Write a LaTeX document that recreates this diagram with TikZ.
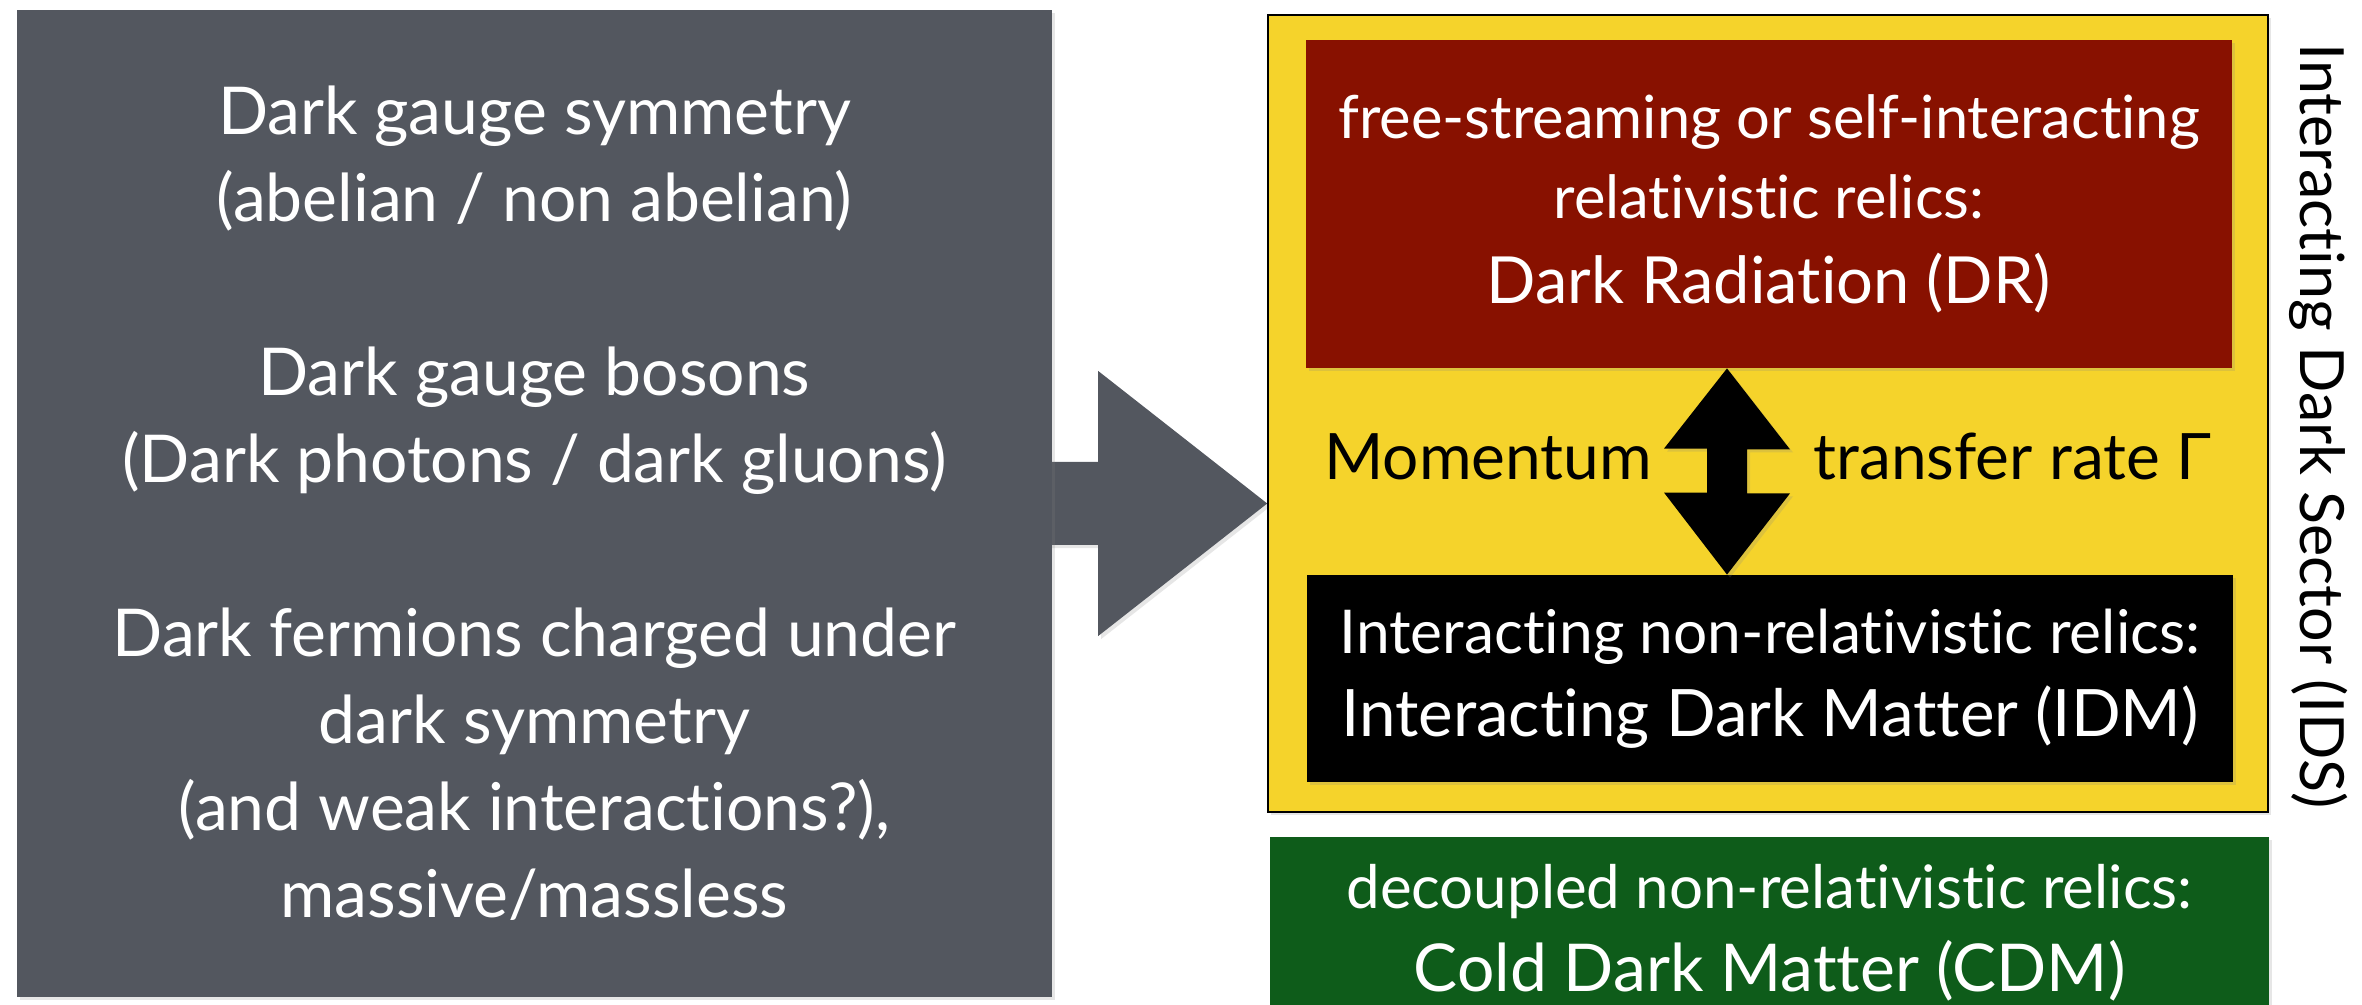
\documentclass[tikz,border=0pt]{standalone}
\usepackage{fontspec}
\setmainfont{Lato}[Ligatures=NoCommon]
\usetikzlibrary{calc,shadows,backgrounds}
\definecolor{boxgray}{RGB}{83,87,95}
\definecolor{drred}{RGB}{136,17,0}
\definecolor{idsyellow}{RGB}{245,211,43}
\definecolor{cdmgreen}{RGB}{14,92,26}
\tikzset{
  shad/.style={drop shadow={opacity=0.2,shadow xshift=1.5pt,shadow yshift=-1.5pt}},
  graybox/.style={fill=boxgray,text=white,align=center,inner sep=0pt,shad},
  panel/.style={align=center,inner sep=0pt,text=white,shad},
  lbl/.style={inner sep=0pt,font=\fontsize{32}{40}\selectfont},
}
\begin{document}
\begin{tikzpicture}[x=0.5pt,y=-0.5pt]
\useasboundingbox (0,0) rectangle (2362,1005);
\clip (0,0) rectangle (2362,1005);
% left box
\node[graybox,minimum width=517.5pt,minimum height=493.5pt,
      font=\fontsize{33}{43.5}\selectfont] (dark) at (534.5,503.5)
  {Dark gauge symmetry\\(abelian / non abelian)\\[43.5pt]
   Dark gauge bosons\\(Dark photons / dark gluons)\\[43.5pt]
   Dark fermions charged under\\dark symmetry\\(and weak interactions?),\\massive/massless};
% yellow sector box
\node[draw=black,line width=0.8pt,fill=idsyellow,minimum width=500pt,minimum height=398.5pt,inner sep=0pt,shad]
  (ids) at (1768,413.5) {};
% DR box
\node[panel,fill=drred,minimum width=463pt,minimum height=164pt,
      font=\fontsize{29.8}{40}\selectfont] (dr) at (1769,204)
  {free-streaming or self-interacting\\
   relativistic relics:\\[2.5pt]
   \fontsize{32.5}{40}\selectfont Dark Radiation (DR)};
% IDM box
\node[panel,fill=black,minimum width=463pt,minimum height=103.5pt,
      font=\fontsize{30.2}{41.5}\selectfont] (idm) at (1770,678.5)
  {Interacting non-relativistic relics:\\
   \fontsize{32.7}{41.5}\selectfont Interacting Dark Matter (IDM)};
% CDM box
\node[panel,fill=cdmgreen,minimum width=499.5pt,minimum height=96pt,
      font=\fontsize{30}{41.5}\selectfont] (cdm) at (1769.5,933)
  {decoupled non-relativistic relics:\\
   \fontsize{33}{41.5}\selectfont Cold Dark Matter (CDM)};
% double arrow
\coordinate (up) at ($(dr.south)+(-42,0)$);
\coordinate (dn) at ($(idm.north)+(-43,0)$);
\fill[black,shad] (up) -- ++(63,81) -- ++(-43,0) -- ++(0,44) -- ++(43,0) -- (dn)
   -- ++(-63,-82) -- ++(43,0) -- ++(0,-44) -- ++(-43,0) -- cycle;
% labels
\node[lbl,anchor=base west] (mom) at (1324,480) {Momentum};
\node[lbl,anchor=base west] (rate) at (1813,480) {transfer rate Γ};
\node[lbl,rotate=-90,anchor=base west,font=\fontsize{30.5}{40}\selectfont] (idsl) at (2300,43)
  {Interacting Dark Sector (IDS)};
% big gray arrow
\coordinate (tip) at (ids.west |- dark.east);
\begin{scope}[on background layer]
\fill[boxgray,shad] ($(tip)+(-230,-41.5)$) -- ($(tip)+(-169,-41.5)$) -- ($(tip)+(-169,-132.5)$)
   -- (tip) -- ($(tip)+(-169,132.5)$) -- ($(tip)+(-169,41.5)$) -- ($(tip)+(-230,41.5)$) -- cycle;
\end{scope}
\end{tikzpicture}
\end{document}
